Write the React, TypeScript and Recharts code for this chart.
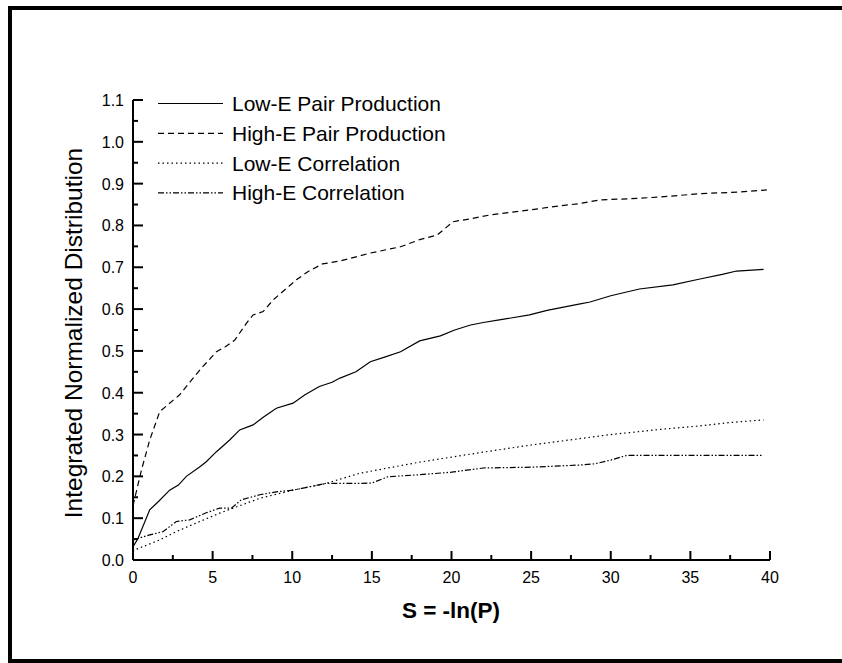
import { LineChart, Line, XAxis, YAxis, Legend, Label } from 'recharts';

const FONT = '"Liberation Sans", Arial, Helvetica, sans-serif';

// values
const lowPairS = [0, 0.3, 1.05, 1.6, 2.3, 2.85, 3.35, 4.2, 4.6, 5.24, 6.07, 6.7, 7.54, 8.2, 9.0, 10.05, 10.8, 11.7, 12.5, 13, 14, 14.9, 15.8, 16.8, 18, 19.3, 20.2, 21.2, 22, 23, 24.9, 26, 26.8, 28, 28.7, 30, 31.8, 33.9, 35.6, 37, 37.9, 39.6];
const lowPairV = [0.032, 0.05, 0.12, 0.14, 0.167, 0.179, 0.2, 0.223, 0.235, 0.259, 0.287, 0.311, 0.323, 0.342, 0.363, 0.375, 0.395, 0.415, 0.425, 0.435, 0.45, 0.474, 0.485, 0.498, 0.524, 0.536, 0.55, 0.562, 0.568, 0.574, 0.586, 0.597, 0.603, 0.612, 0.617, 0.632, 0.648, 0.658, 0.672, 0.683, 0.691, 0.695];

const highPairS = [0, 0.53, 1.05, 1.68, 2.93, 3.67, 4.3, 5.24, 5.8, 6.39, 7.12, 7.54, 8.17, 8.8, 9.5, 10.26, 11, 11.9, 13, 14.9, 16.8, 18, 19.1, 20.1, 21.2, 22.4, 24.9, 26.8, 28, 29.3, 31.2, 33.1, 35.6, 38.1, 39.8];
const highPairV = [0.13, 0.215, 0.287, 0.355, 0.395, 0.43, 0.459, 0.498, 0.51, 0.526, 0.566, 0.586, 0.594, 0.622, 0.645, 0.67, 0.69, 0.708, 0.715, 0.734, 0.749, 0.766, 0.777, 0.809, 0.816, 0.825, 0.837, 0.847, 0.852, 0.861, 0.864, 0.868, 0.876, 0.88, 0.885];

const lowCorrS = [0, 0.1, 1.68, 2.72, 4.19, 5.44, 6.28, 8, 10.05, 12.1, 14.2, 16, 18, 20, 22, 25, 28, 30, 33.3, 35.4, 37.3, 38.9, 39.6];
const lowCorrV = [0.02, 0.024, 0.048, 0.068, 0.092, 0.112, 0.124, 0.148, 0.167, 0.183, 0.207, 0.22, 0.234, 0.246, 0.258, 0.275, 0.29, 0.3, 0.313, 0.32, 0.328, 0.333, 0.335];

const highCorrS = [0, 1.05, 1.9, 2.72, 3.56, 4.6, 5.44, 6.18, 6.8, 7.96, 9.0, 10.05, 12.1, 14.2, 15, 16, 18, 20, 22, 25, 28, 29, 30, 31, 35, 39.6];
const highCorrV = [0.048, 0.06, 0.068, 0.092, 0.096, 0.113, 0.124, 0.124, 0.144, 0.156, 0.163, 0.167, 0.183, 0.183, 0.184, 0.199, 0.204, 0.21, 0.22, 0.222, 0.227, 0.23, 0.239, 0.25, 0.25, 0.25];

const xTicks = [0, 2.5, 5, 7.5, 10, 12.5, 15, 17.5, 20, 22.5, 25, 27.5, 30, 32.5, 35, 37.5, 40];
const yTicks = [0, 0.05, 0.1, 0.15, 0.2, 0.25, 0.3, 0.35, 0.4, 0.45, 0.5, 0.55, 0.6, 0.65, 0.7, 0.75, 0.8, 0.85, 0.9, 0.95, 1.0, 1.05, 1.1];

const toRows = (s: number[], v: number[]) => s.map((x, i) => ({ s: x, v: v[i] }));

const series = [
  { name: 'Low-E Pair Production', data: toRows(lowPairS, lowPairV), dash: undefined },
  { name: 'High-E Pair Production', data: toRows(highPairS, highPairV), dash: '6 4' },
  { name: 'Low-E Correlation', data: toRows(lowCorrS, lowCorrV), dash: '1.5 3' },
  { name: 'High-E Correlation', data: toRows(highCorrS, highCorrV), dash: '6 2 1.5 2 1.5 2' },
];

function XTick({ x, y, payload }: any) {
  const major = payload.value % 5 === 0;
  return (
    <g>
      <line x1={x} x2={x} y1={y} y2={y - (major ? 9 : 5)} stroke="#000" strokeWidth={2} />
      {major && (
        <text x={x} y={y + 23} textAnchor="middle" fontSize={16} fontFamily={FONT} fill="#000">
          {payload.value}
        </text>
      )}
    </g>
  );
}

function YTick({ x, y, payload }: any) {
  const major = Math.round(payload.value * 100) % 10 === 0;
  return (
    <g>
      <line x1={x} x2={x + (major ? 10 : 5)} y1={y} y2={y} stroke="#000" strokeWidth={2} />
      {major && (
        <text x={x - 9} y={y + 6} textAnchor="end" fontSize={16} fontFamily={FONT} fill="#000">
          {payload.value.toFixed(1)}
        </text>
      )}
    </g>
  );
}

function renderLegend() {
  return (
    <svg width={330} height={130}>
      {series.map((sr, i) => {
        const cy = 15.5 + 29.8 * i;
        return (
          <g key={sr.name}>
            <line x1={8} x2={73} y1={cy} y2={cy} stroke="#000" strokeWidth={1.2} strokeDasharray={sr.dash} />
            <text x={82} y={cy + 7.5} fontSize={21} fontFamily={FONT} fill="#000">
              {sr.name}
            </text>
          </g>
        );
      })}
    </svg>
  );
}

export default function App() {
  return (
    <div style={{ position: 'absolute', left: 0, top: 0, width: 842, height: 663, overflow: 'hidden', background: '#fff' }}>
      <div
        style={{
          position: 'absolute',
          left: 8,
          top: 6,
          width: 900,
          height: 657,
          border: '4px solid #000',
          boxSizing: 'border-box',
        }}
      />
      <div style={{ position: 'absolute', left: 0, top: 0 }}>
        <LineChart width={842} height={663} margin={{ top: 100, right: 72, left: 0, bottom: 73 }}>
          <XAxis
            dataKey="s"
            type="number"
            domain={[0, 40]}
            ticks={xTicks}
            interval={0}
            height={30}
            tickSize={0}
            tickMargin={0}
            tickLine={false}
            axisLine={{ stroke: '#000', strokeWidth: 2 }}
            tick={<XTick />}
            allowDataOverflow
          >
            <Label
              content={() => (
                <text x={451} y={618} textAnchor="middle" fontSize={22.5} fontWeight="bold" fontFamily={FONT} fill="#000">
                  S = -ln(P)
                </text>
              )}
            />
          </XAxis>
          <YAxis
            type="number"
            domain={[0, 1.1]}
            ticks={yTicks}
            interval={0}
            width={133}
            tickSize={0}
            tickMargin={0}
            tickLine={false}
            axisLine={{ stroke: '#000', strokeWidth: 2 }}
            tick={<YTick />}
            allowDataOverflow
          >
            <Label
              content={() => (
                <text
                  x={82}
                  y={333}
                  transform="rotate(-90 82 333)"
                  textAnchor="middle"
                  fontSize={24.5}
                  fontFamily={FONT}
                  fill="#000"
                >
                  Integrated Normalized Distribution
                </text>
              )}
            />
          </YAxis>
          <Legend
            layout="vertical"
            align="center"
            verticalAlign="middle"
            content={renderLegend}
            wrapperStyle={{ left: 150, top: 88, width: 330 }}
          />
          {series.map((sr) => (
            <Line
              key={sr.name}
              name={sr.name}
              data={sr.data}
              dataKey="v"
              type="linear"
              stroke="#000"
              strokeWidth={1.2}
              strokeDasharray={sr.dash}
              dot={false}
              activeDot={false}
              isAnimationActive={false}
            />
          ))}
        </LineChart>
      </div>
    </div>
  );
}
